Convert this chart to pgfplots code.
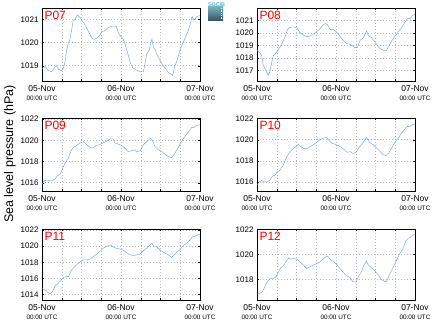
\documentclass[border=0pt]{standalone}
\usepackage{pgfplots}
\pgfplotsset{compat=1.18}
\usepackage{pgfplotstable}
\usepackage{fontspec}
\setmainfont{Liberation Sans}
\definecolor{linec}{RGB}{112,155,198}
\definecolor{gridc}{RGB}{185,185,185}
\definecolor{logotop}{RGB}{115,175,190}
\definecolor{logobot}{RGB}{55,80,95}
\definecolor{logotext}{RGB}{70,190,215}

\pgfplotstableread{
h p
0 1018.88
1.0 1018.96
2.0 1018.78
2.9 1018.74
3.6 1018.88
4.3 1019.01
5.0 1018.84
5.8 1018.78
6.5 1018.88
7.0 1019.17
7.5 1019.68
8.0 1019.96
8.5 1020.14
9.0 1020.54
9.5 1020.97
10.1 1021.00
10.7 1021.19
11.3 1021.12
12.1 1020.97
12.8 1020.83
13.6 1020.61
14.4 1020.40
15.2 1020.18
15.8 1020.14
16.6 1020.18
17.4 1020.28
18.1 1020.47
19.1 1020.51
19.8 1020.61
20.7 1020.68
21.5 1020.71
22.5 1020.71
23.2 1020.42
23.9 1020.28
24.7 1020.14
25.5 1019.82
26.2 1019.46
26.9 1019.10
27.7 1018.88
28.8 1018.81
29.8 1018.74
30.8 1018.74
31.3 1019.10
31.8 1019.50
32.6 1019.68
33.0 1019.96
33.4 1020.14
33.8 1019.82
34.4 1019.68
35.0 1019.46
35.8 1019.24
36.7 1019.03
37.5 1018.88
38.4 1018.70
39.1 1018.64
39.7 1018.58
40.3 1018.96
40.9 1019.17
41.7 1019.56
42.5 1019.89
43.4 1020.18
44.3 1020.47
45.0 1020.76
45.6 1021.12
46.2 1020.97
47.0 1021.12
48.0 1021.16
}\dataA

\pgfplotstableread{
h p
0 1018.67
0.9 1018.41
1.4 1018.22
1.9 1017.43
2.4 1017.16
2.9 1016.90
3.4 1016.63
3.9 1016.90
4.5 1017.69
5.0 1018.22
5.5 1018.35
6.0 1018.49
7.0 1018.88
7.8 1019.28
8.5 1019.68
9.2 1020.21
9.8 1020.42
10.5 1020.47
11.2 1020.47
12.1 1020.42
12.9 1020.07
13.9 1019.86
14.9 1019.73
15.9 1019.73
16.9 1019.86
17.9 1020.07
18.9 1020.26
19.9 1020.60
20.7 1020.74
21.4 1020.68
22.2 1020.26
23.2 1020.26
24.2 1020.07
25.2 1019.73
26.2 1019.41
27.2 1019.15
28.3 1019.10
29.1 1018.94
29.8 1018.83
30.5 1018.83
31.3 1019.41
32.3 1019.62
33.0 1019.99
33.3 1020.15
33.8 1019.81
34.8 1019.62
35.8 1019.28
36.9 1018.88
37.9 1018.67
39.2 1018.57
39.9 1018.88
40.9 1019.36
41.9 1019.73
42.9 1020.07
43.9 1020.42
45.0 1020.87
45.7 1021.13
46.5 1021.13
47.3 1021.40
48.0 1021.48
}\dataB

\pgfplotstableread{
h p
0 1015.84
0.6 1016.16
1.4 1016.25
2.2 1016.25
2.9 1016.16
3.9 1016.35
4.7 1016.66
5.5 1016.79
6.3 1017.36
7.0 1017.83
8.0 1018.31
8.7 1018.94
9.5 1019.32
10.5 1019.51
11.5 1019.73
12.6 1019.88
13.4 1019.63
14.6 1019.32
15.4 1019.25
16.4 1019.51
17.4 1019.57
18.4 1019.73
19.4 1019.88
20.7 1020.14
21.5 1020.14
22.2 1019.73
23.2 1019.63
24.2 1019.51
25.2 1019.25
26.2 1018.94
27.2 1019.00
27.9 1019.10
28.8 1018.94
29.8 1019.00
30.8 1019.57
31.8 1019.88
33.0 1020.20
33.6 1019.95
34.3 1019.41
35.3 1019.10
36.4 1018.94
37.4 1018.68
38.4 1018.46
39.4 1018.37
40.4 1018.78
41.4 1019.32
42.4 1019.88
43.4 1020.36
44.4 1020.77
45.5 1021.21
46.2 1021.21
47.0 1021.40
48.0 1021.46
}\dataC

\pgfplotstableread{
h p
0 1015.74
0.7 1016.00
1.4 1016.16
2.1 1016.00
3.1 1016.00
3.9 1016.16
4.8 1016.57
5.5 1016.64
6.0 1016.89
7.0 1017.12
8.0 1017.60
8.8 1018.23
9.5 1018.62
10.5 1019.03
11.5 1019.26
12.6 1019.57
13.3 1019.35
14.1 1019.19
15.1 1019.13
16.1 1019.35
17.1 1019.51
18.1 1019.77
19.1 1019.99
20.1 1020.15
21.1 1020.21
21.7 1019.99
22.7 1019.67
23.7 1019.57
24.7 1019.45
25.7 1019.26
26.7 1019.03
27.4 1018.81
28.3 1018.87
29.1 1018.71
30.1 1018.81
30.8 1019.19
31.8 1019.57
32.8 1019.99
33.3 1020.21
34.1 1019.77
35.1 1019.57
36.2 1019.26
37.2 1018.94
38.2 1018.62
39.2 1018.49
39.9 1018.71
40.9 1019.19
41.9 1019.77
42.9 1020.15
43.9 1020.63
45.0 1021.04
45.7 1021.27
46.5 1021.27
47.3 1021.43
48.0 1021.49
}\dataD

\pgfplotstableread{
h p
0 1014.75
0.9 1014.62
1.6 1014.34
2.4 1014.09
3.2 1014.34
3.9 1015.03
5.0 1015.44
5.7 1015.73
6.5 1016.14
7.5 1016.26
8.1 1016.26
8.7 1016.88
9.5 1017.29
10.5 1017.70
11.5 1018.02
12.6 1018.31
13.8 1018.31
14.8 1018.43
15.6 1018.72
16.6 1019.01
17.6 1019.34
18.6 1019.75
19.6 1019.95
20.7 1020.16
21.5 1019.95
22.5 1019.75
23.5 1019.66
24.5 1019.54
25.5 1019.25
26.7 1018.93
27.7 1018.84
29.0 1018.93
29.8 1019.01
30.8 1019.42
31.8 1019.75
32.8 1020.16
33.4 1020.36
34.0 1019.95
34.8 1019.95
35.8 1019.54
36.9 1019.25
37.9 1019.01
38.7 1018.84
39.4 1018.60
40.1 1018.93
40.9 1019.25
41.9 1019.54
42.9 1020.07
43.9 1020.36
45.0 1020.77
45.8 1021.18
46.8 1021.26
47.5 1021.47
48.0 1021.47
}\dataE

\pgfplotstableread{
h p
0 1016.81
0.9 1016.86
1.7 1017.02
2.4 1017.42
3.1 1017.81
3.9 1018.03
5.0 1018.08
5.8 1018.21
6.5 1018.56
7.2 1018.93
8.0 1019.09
8.8 1019.40
9.5 1019.72
10.2 1019.62
11.0 1019.67
12.1 1019.62
13.1 1019.40
14.1 1019.14
15.1 1018.87
16.1 1019.01
17.1 1019.14
18.1 1019.27
19.1 1019.40
20.1 1019.62
21.2 1019.88
21.7 1019.80
22.4 1019.54
23.2 1019.46
24.2 1019.19
25.2 1018.87
26.2 1018.56
27.2 1018.29
28.3 1018.13
29.1 1017.81
30.1 1017.76
30.8 1018.21
31.8 1018.66
32.5 1019.14
33.3 1019.46
33.8 1019.14
34.8 1018.93
35.8 1018.66
36.9 1018.34
37.9 1017.95
38.9 1017.81
39.4 1017.81
40.2 1018.34
41.2 1018.87
42.2 1019.40
43.2 1019.99
44.3 1020.46
45.3 1021.13
46.0 1021.31
46.7 1021.39
47.3 1021.58
48.0 1021.58
}\dataF

\pgfplotsset{
  panel/.style={
    scale only axis, width=158pt, height=73pt, anchor=south west,
    xmin=0, xmax=48,
    xtick={0,24,48}, minor xtick={6,12,18,30,36,42},
    xticklabels={{05-Nov\\[-0.5pt]{\fontsize{6.4}{6.4}\selectfont 00:00 UTC}},
                  {06-Nov\\[-0.5pt]{\fontsize{6.4}{6.4}\selectfont 00:00 UTC}},
                  {07-Nov\\[-0.5pt]{\fontsize{6.4}{6.4}\selectfont 00:00 UTC}}},
    xticklabel style={font=\fontsize{8.5}{9}\selectfont, align=center, yshift=-1.5pt},
    yticklabel style={font=\fontsize{8}{9}\selectfont},
    /pgf/number format/assume math mode=true,
    /pgf/number format/1000 sep={},
    grid=both,
    major grid style={gridc, line width=0.5pt, dash pattern=on 0.8pt off 2.2pt},
    minor grid style={gridc, line width=0.5pt, dash pattern=on 0.8pt off 2.2pt},
    axis line style={black, line width=0.6pt},
    tick style={black, line width=0.4pt},
    tick align=inside, major tick length=2pt, minor tick length=2pt,
    cycle list={{linec, line width=1pt, mark=none}},
  },
}
\tikzset{ttl/.style={anchor=north west, inner sep=0pt, text=red, font=\fontsize{12}{12}\selectfont}}

\begin{document}
\begin{tikzpicture}
\useasboundingbox (0,0) rectangle (434pt,327pt);

% Row 1
\begin{axis}[panel, at={(42pt,246pt)}, ymin=1018.34, ymax=1021.49, ytick={1019,1020,1021}]
\addplot table[x=h,y=p] {\dataA};
\node[ttl] at (rel axis cs:0,1) [xshift=2.3pt,yshift=-3pt] {P07};
\end{axis}
\begin{axis}[panel, at={(257pt,246pt)}, ymin=1016.18, ymax=1021.98, ytick={1017,1018,1019,1020,1021}]
\addplot table[x=h,y=p] {\dataB};
\node[ttl] at (rel axis cs:0,1) [xshift=2.3pt,yshift=-3pt] {P08};
\end{axis}

% Row 2
\begin{axis}[panel, at={(42pt,136pt)}, ymin=1015.22, ymax=1022.1, ytick={1016,1018,1020,1022}]
\addplot table[x=h,y=p] {\dataC};
\node[ttl] at (rel axis cs:0,1) [xshift=2.3pt,yshift=-3pt] {P09};
\end{axis}
\begin{axis}[panel, at={(257pt,136pt)}, ymin=1015.14, ymax=1022.06, ytick={1016,1018,1020,1022}]
\addplot table[x=h,y=p] {\dataD};
\node[ttl] at (rel axis cs:0,1) [xshift=2.3pt,yshift=-3pt] {P10};
\end{axis}

% Row 3
\begin{axis}[panel, at={(42pt,27pt)}, height=71pt, ymin=1013.34, ymax=1022.12, ytick={1014,1016,1018,1020,1022}]
\addplot table[x=h,y=p] {\dataE};
\node[ttl] at (rel axis cs:0,1) [xshift=2.3pt,yshift=-3pt] {P11};
\end{axis}
\begin{axis}[panel, at={(257pt,27pt)}, height=71pt, ymin=1016.33, ymax=1022.05, ytick={1018,1020,1022}]
\addplot table[x=h,y=p] {\dataF};
\node[ttl] at (rel axis cs:0,1) [xshift=2.3pt,yshift=-3pt] {P12};
\end{axis}

% y label
\node[rotate=90, font=\fontsize{12.5}{13}\selectfont] at (10pt,173pt) {Sea level pressure (hPa)};

% logo
\shade[top color=logotop, bottom color=logobot] (208pt,306pt) rectangle (223pt,320pt);
\draw[white, line width=0.6pt, dash pattern=on 0.7pt off 1pt] (221pt,308pt) -- (221pt,318.5pt);
\node[text=logotext, font=\fontsize{5.4}{5.4}\selectfont\bfseries, inner sep=0pt, anchor=base west] at (207.8pt,320.6pt) {SOCIB};
\end{tikzpicture}
\end{document}
